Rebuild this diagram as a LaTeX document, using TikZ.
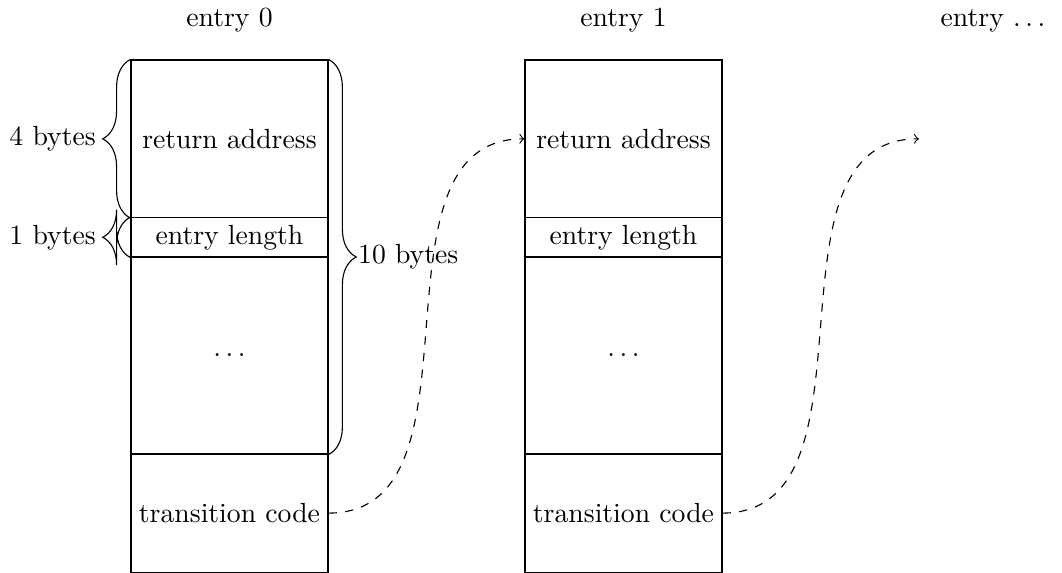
\documentclass[tikz,border=0pt]{standalone}
\usetikzlibrary{decorations.pathreplacing}
\makeatletter
\pgfdeclaredecoration{oldbrace}{brace}
{%
  \state{brace}[width=+\pgfdecoratedremainingdistance,next state=final]
  {%
    \pgfpathmoveto{\pgfpointorigin}%
    \pgfpathcurveto
    {\pgfqpoint{.15\pgfdecorationsegmentamplitude}{.3\pgfdecorationsegmentamplitude}}%
    {\pgfqpoint{.5\pgfdecorationsegmentamplitude}{.5\pgfdecorationsegmentamplitude}}%
    {\pgfqpoint{\pgfdecorationsegmentamplitude}{.5\pgfdecorationsegmentamplitude}}%
    {%
      \pgftransformxshift{+\pgfdecorationsegmentaspect\pgfdecoratedremainingdistance}%
      \pgfpathlineto{\pgfqpoint{-\pgfdecorationsegmentamplitude}{.5\pgfdecorationsegmentamplitude}}%
      \pgfpathcurveto
      {\pgfqpoint{-.5\pgfdecorationsegmentamplitude}{.5\pgfdecorationsegmentamplitude}}%
      {\pgfqpoint{-.15\pgfdecorationsegmentamplitude}{.7\pgfdecorationsegmentamplitude}}%
      {\pgfqpoint{0pt}{\pgfdecorationsegmentamplitude}}%
      \pgfpathcurveto
      {\pgfqpoint{.15\pgfdecorationsegmentamplitude}{.7\pgfdecorationsegmentamplitude}}%
      {\pgfqpoint{.5\pgfdecorationsegmentamplitude}{.5\pgfdecorationsegmentamplitude}}%
      {\pgfqpoint{\pgfdecorationsegmentamplitude}{.5\pgfdecorationsegmentamplitude}}%
    }%
    {%
      \pgftransformxshift{+\pgfdecoratedremainingdistance}%
      \pgfpathlineto{\pgfqpoint{-\pgfdecorationsegmentamplitude}{.5\pgfdecorationsegmentamplitude}}%
      \pgfpathcurveto
      {\pgfqpoint{-.5\pgfdecorationsegmentamplitude}{.5\pgfdecorationsegmentamplitude}}%
      {\pgfqpoint{-.15\pgfdecorationsegmentamplitude}{.3\pgfdecorationsegmentamplitude}}%
      {\pgfqpoint{0pt}{0pt}}%
    }%
  }%
  \state{final}{}%
}
\makeatother
\begin{document}
\begin{tikzpicture}[
  sect/.style={draw, minimum width=2.5cm, inner sep=0pt},
  bigbrace/.style={decorate, decoration={oldbrace, amplitude=10pt}},
  link/.style={->, dashed},
  title/.style={inner sep=2pt}
]
\useasboundingbox (-1.6624,0.7614) rectangle (11.815,-6.51);
% entry 0
\node[title] (t0) at (1.25,0.5) {entry 0};
\node[sect, minimum height=2cm] (ra0) at (1.25,-1) {return address};
\node[sect, minimum height=0.5cm] (el0) at (1.25,-2.25) {entry length};
\node[sect, minimum height=2.5cm] (dd0) at (1.25,-3.75) {$\ldots$};
\node[sect, minimum height=1.5cm] (tc0) at (1.25,-5.75) {transition code};
% entry 1
\node[title] (t1) at (6.25,0.5) {entry 1};
\node[sect, minimum height=2cm] (ra1) at (6.25,-1) {return address};
\node[sect, minimum height=0.5cm] (el1) at (6.25,-2.25) {entry length};
\node[sect, minimum height=2.5cm] (dd1) at (6.25,-3.75) {$\ldots$};
\node[sect, minimum height=1.5cm] (tc1) at (6.25,-5.75) {transition code};
% entry ...
\node[title] (t2) at (10.94,0.5) {entry $\ldots$};
\coordinate (ra2) at (10,-1);
% braces
\draw[bigbrace] (ra0.south west) -- (ra0.north west)
  node[midway, left=9pt] (b4) {4 bytes};
\draw[bigbrace] (el0.south west) -- (el0.north west)
  node[midway, left=9pt] (b1) {1 bytes};
\draw[bigbrace] (ra0.north east) -- (dd0.south east)
  node[midway, right=10pt, inner sep=0.5pt] (b10) {10 bytes};
% links
\draw[link] (tc0.east) to[out=0, in=180] (ra1.west);
\draw[link] (tc1.east) to[out=0, in=180] (ra2);
\end{tikzpicture}
\end{document}
